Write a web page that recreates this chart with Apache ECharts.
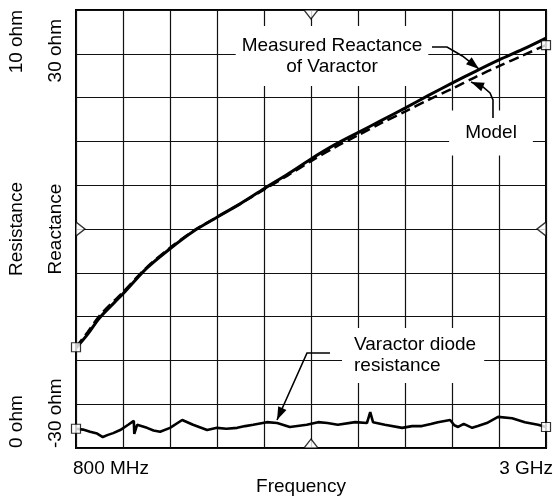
<!DOCTYPE html>
<html><head><meta charset="utf-8">
<script src="https://cdn.jsdelivr.net/npm/echarts@6/dist/echarts.min.js"></script>
<style>html,body{margin:0;padding:0;background:#fff}#c{width:555px;height:501px}</style>
</head><body><div id="c"></div>
<script>
// ---- tick labels (grid divisions 0..10 on both axes) ----
const xTickValues = [0, 10];
const xTickLabels = ['800 MHz', '3 GHz'];
const xAxisTitle = 'Frequency';
const resistanceLabels = ['10 ohm', 'Resistance', '0 ohm'];
const reactanceLabels = ['30 ohm', 'Reactance', '-30 ohm'];
const resistanceLabelValues = [10, 5, 0];
const reactanceLabelValues = [9.07, 5, 0];

// ---- series values (in screen divisions) ----
const measured = [[0,2.28],[0.25,2.6],[0.5,2.97],[1,3.52],[1.5,4.1],[2,4.55],[2.5,4.95],[3,5.27],[3.5,5.58],[4,5.92],[4.5,6.25],[5,6.6],[5.5,6.92],[6,7.2],[6.5,7.48],[7,7.76],[7.5,8.05],[8,8.33],[8.5,8.6],[9,8.86],[9.5,9.1],[10,9.36]];
const model = [[0,2.3],[0.25,2.65],[0.5,3.02],[1,3.56],[1.5,4.12],[2,4.57],[2.5,4.96],[3,5.27],[3.5,5.58],[4,5.9],[4.5,6.22],[5,6.55],[5.5,6.86],[6,7.14],[6.5,7.42],[7,7.68],[7.5,7.95],[8,8.2],[8.5,8.47],[9,8.72],[9.5,8.96],[10,9.2]];
const resistance = [[0,0.44],[0.15,0.42],[0.3,0.37],[0.45,0.33],[0.57,0.25],[0.68,0.3],[0.79,0.34],[0.94,0.41],[1.11,0.53],[1.23,0.62],[1.24,0.32],[1.3,0.53],[1.51,0.46],[1.65,0.4],[1.79,0.37],[2.0,0.46],[2.26,0.64],[2.49,0.53],[2.79,0.41],[3.0,0.46],[3.2,0.44],[3.43,0.46],[3.6,0.5],[3.77,0.53],[4.06,0.59],[4.28,0.57],[4.55,0.48],[4.91,0.53],[5.15,0.59],[5.35,0.57],[5.57,0.53],[5.94,0.59],[6.19,0.57],[6.26,0.82],[6.32,0.59],[6.57,0.53],[6.94,0.46],[7.15,0.5],[7.36,0.5],[7.55,0.55],[7.7,0.59],[7.96,0.64],[8.05,0.52],[8.13,0.48],[8.25,0.55],[8.43,0.46],[8.55,0.5],[8.74,0.57],[8.98,0.71],[9.28,0.68],[9.55,0.59],[9.83,0.53],[10,0.48]];

// edge reference markers (division coords) and rotations
const edgeMarkerPos = [[5,10],[0,5],[10,5],[5,0]];
const edgeMarkerRot = [180, -90, 90, 0];
const edgeMarkerOff = [[0,4.5],[4.5,0],[-4.5,0],[0,-4.5]];

// annotations (division coords)
const annMeasuredText = ['Measured Reactance', 'of Varactor'];
const annMeasuredPos = [5.447, 8.95];
const annMeasuredLeader = [[7.574,9.155],[7.894,9.155],[8.22,8.95],[8.45,8.76]];
const annMeasuredTip = [8.574,8.653];
const annModelText = 'Model';
const annModelPos = [8.83, 7.19];
const annModelLeader = [[8.872,7.534],[8.872,7.945],[8.809,8.105],[8.66,8.242]];
const annModelTip = [8.404,8.356];
const annResText = ['Varactor diode', 'resistance'];
const annResPos = [5.66, 2.11];
const annResLeader = [[5.404,2.169],[4.915,2.169]];
const annResTip = [4.277,0.639];

const FONT = '"Liberation Sans", Arial, Helvetica, sans-serif';
const FS = 19;

const chart = echarts.init(document.getElementById('c'), null, {renderer:'canvas'});
const axisCommon = {
  type:'value', min:0, max:10, interval:1,
  axisLine:{show:false}, axisTick:{show:false}, axisLabel:{show:false},
  splitLine:{show:true, lineStyle:{color:'#111', width:1.2}}
};
const endpoints = [model[0], model[model.length-1], resistance[0], resistance[resistance.length-1]];

chart.setOption({
  animation:false,
  backgroundColor:'#fff',
  grid:{left:76, top:10, width:470, height:438, show:true, borderColor:'#000', borderWidth:2},
  xAxis: Object.assign({}, axisCommon),
  yAxis: Object.assign({}, axisCommon),
  series:[
    {type:'line', data:measured, showSymbol:false, smooth:0.3, lineStyle:{color:'#000', width:3}, z:3},
    {type:'line', data:model, showSymbol:false, smooth:0.3, lineStyle:{color:'#000', width:2.5, type:[10,5]}, z:3},
    {type:'line', data:resistance, showSymbol:false, lineStyle:{color:'#000', width:2.6}, z:3},
    {type:'scatter', data:endpoints, symbol:'rect', symbolSize:9, clip:false,
      itemStyle:{color:'#fff', borderColor:'#000', borderWidth:1.2}, z:6},
    {type:'scatter', clip:false, symbol:'triangle', symbolSize:[14,9],
      data: edgeMarkerPos.map((p,i)=>({value:p, symbolRotate:edgeMarkerRot[i], symbolOffset:edgeMarkerOff[i]})),
      itemStyle:{color:'#fff', borderColor:'#000', borderWidth:1.2}, z:6}
  ]
});

const P = (p) => chart.convertToPixel({gridIndex:0}, p);
const g = [];
function txt(text, x, y, align, valign, extra) {
  const style = Object.assign({text, x:0, y:0, font:`${FS}px ${FONT}`, fill:'#000',
    align, verticalAlign:valign, textAlign:align, textVerticalAlign:valign}, extra && extra.style || {});
  const el = {type:'text', x, y, z:20, style};
  if (extra && extra.rotation !== undefined) el.rotation = extra.rotation;
  g.push(el);
}
// x tick labels
const xl = P([xTickValues[0],0]), xr = P([xTickValues[1],0]);
txt(xTickLabels[0], xl[0]-3, xl[1]+21, 'left', 'middle');
txt(xTickLabels[1], xr[0]+7, xr[1]+21, 'right', 'middle');
const xm = P([5,0]);
txt(xAxisTitle, xm[0]-10, xm[1]+39, 'center', 'middle');
// y labels (rotated)
const gl = P([0,0])[0];
const colR = gl - 59, colX = gl - 20;
const alignFor = [ 'right', 'center', 'left' ];
resistanceLabels.forEach((t,i)=>{
  const y = P([0, resistanceLabelValues[i]])[1];
  txt(t, colR, y, alignFor[i], 'middle', {rotation:Math.PI/2});
});
reactanceLabels.forEach((t,i)=>{
  const y = P([0, reactanceLabelValues[i]])[1];
  txt(t, colX, y, i===0?'center':alignFor[i], 'middle', {rotation:Math.PI/2});
});
// annotations
function leader(points, tip) {
  const pts = points.map(P);
  const t = P(tip);
  pts.push(t);
  g.push({type:'polyline', z:20, shape:{points:pts}, style:{stroke:'#000', lineWidth:1.6, fill:null}});
  const a = pts[pts.length-2];
  let dx = t[0]-a[0], dy = t[1]-a[1];
  const L = Math.hypot(dx,dy); dx/=L; dy/=L;
  const len = 13, w = 4.5;
  const bx = t[0]-dx*len, by = t[1]-dy*len;
  g.push({type:'polygon', z:21, shape:{points:[t,[bx-dy*w, by+dx*w],[bx+dy*w, by-dx*w]]}, style:{fill:'#000'}});
}
const mp = P(annMeasuredPos);
txt(annMeasuredText.join('\n'), mp[0], mp[1], 'center', 'middle',
  {style:{lineHeight:21, backgroundColor:'#fff', padding:[10,6,8,6]}});
leader(annMeasuredLeader, annMeasuredTip);
const mdp = P(annModelPos);
txt(annModelText, mdp[0], mdp[1], 'center', 'middle',
  {style:{backgroundColor:'#fff', padding:[13,16,13,16]}});
leader(annModelLeader, annModelTip);
const rp = P(annResPos);
txt(annResText.join('\n'), rp[0], rp[1], 'left', 'middle',
  {style:{lineHeight:21, backgroundColor:'#fff', padding:[9,8,4,12]}});
leader(annResLeader, annResTip);

chart.setOption({graphic: g});
</script></body></html>
